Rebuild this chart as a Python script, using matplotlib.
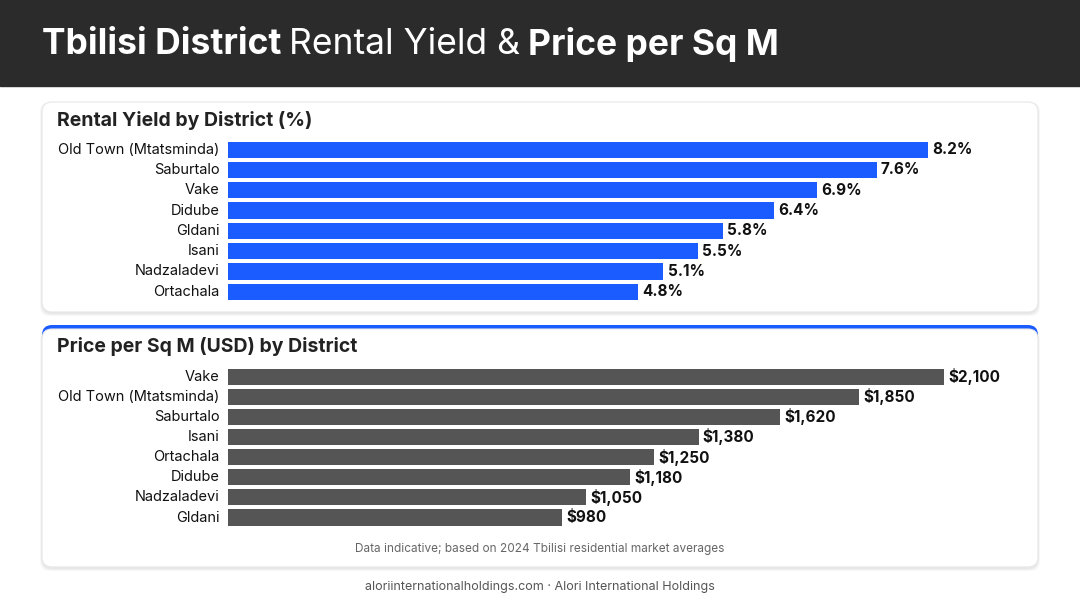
import matplotlib
matplotlib.use("Agg")
import matplotlib.pyplot as plt
from matplotlib.patches import FancyBboxPatch, Rectangle

plt.rcParams['font.family'] = ['Inter', 'DejaVu Sans']

yield_districts = ["Old Town (Mtatsminda)", "Saburtalo", "Vake", "Didube", "Gldani", "Isani", "Nadzaladevi", "Ortachala"]
yield_values = [8.2, 7.6, 6.9, 6.4, 5.8, 5.5, 5.1, 4.8]
price_districts = ["Vake", "Old Town (Mtatsminda)", "Saburtalo", "Isani", "Ortachala", "Didube", "Nadzaladevi", "Gldani"]
price_values = [2100, 1850, 1620, 1380, 1250, 1180, 1050, 980]

W, H = 1080, 603
fig = plt.figure(figsize=(W/100, H/100), dpi=100)
fig.patch.set_facecolor("white")
bg = fig.add_axes([0, 0, 1, 1]); bg.set_xlim(0, W); bg.set_ylim(H, 0); bg.axis("off")

bg.add_patch(Rectangle((0, 0), W, 86, color="#2b2b2b"))
TS = 25.5
t = bg.text(42, 44, "Tbilisi District", color="white", fontsize=TS, fontweight="bold", va="center")
fig.canvas.draw()
def after(txt, s, weight):
    bb = txt.get_window_extent()
    x = bb.x1 + 8
    return bg.text(x, 44, s, color="white", fontsize=TS, fontweight=weight, va="center")
t2 = after(t, "Rental Yield &", "normal"); fig.canvas.draw()
after(t2, "Price per Sq M", "bold")

def panel(y0, y1, topblue=False):
    for i, a in enumerate([0.03, 0.03, 0.03]):
        bg.add_patch(FancyBboxPatch((42 - i, y0 + 2 - i), 996 + 2*i, y1 - y0 + 2*i,
                     boxstyle="round,pad=0,rounding_size=10", fc="black", ec="none", alpha=a))
    if topblue:
        bg.add_patch(FancyBboxPatch((42, y0 - 4), 996, 30, boxstyle="round,pad=0,rounding_size=10",
                     fc="#1a5cff", ec="none"))
    bg.add_patch(FancyBboxPatch((42, y0), 996, y1 - y0, boxstyle="round,pad=0,rounding_size=10",
                 fc="white", ec="#e6e6e6", lw=0.8))

panel(102, 312)
panel(329, 567, topblue=True)
bg.text(57, 120, "Rental Yield by District (%)", fontsize=14, fontweight="bold", color="#222", va="center")
bg.text(57, 347, "Price per Sq M (USD) by District", fontsize=14, fontweight="bold", color="#222", va="center")
bg.text(540, 549, "Data indicative; based on 2024 Tbilisi residential market averages", fontsize=8.5, color="#666", ha="center", va="center")
bg.text(540, 587, "aloriinternationalholdings.com · Alori International Holdings", fontsize=9, color="#555", ha="center", va="center")

def bars(cats, vals, top, spacing, right, color, fmt):
    n = len(cats)
    ax = fig.add_axes([228/W, 1 - (top + n*spacing)/H, (right-228)/W, n*spacing/H])
    ax.barh(range(n), vals, height=0.8, color=color)
    ax.set_xlim(0, vals[0]); ax.set_ylim(n - 0.5, -0.5)
    ax.axis("off")
    for i, (c, v) in enumerate(zip(cats, vals)):
        ax.text(-0.012*vals[0], i, c, ha="right", va="center", fontsize=10.5, color="#111")
        ax.text(v + 0.006*vals[0], i, fmt(v), ha="left", va="center", fontsize=11, fontweight="bold", color="#111", clip_on=False)

bars(yield_districts, yield_values, 139.5, 20.3, 928, "#1a5cff", lambda v: f"{v:.1f}%")
bars(price_districts, price_values, 366.5, 20.14, 944, "#555555", lambda v: f"${v:,.0f}")

fig.savefig("out.png", dpi=100)
